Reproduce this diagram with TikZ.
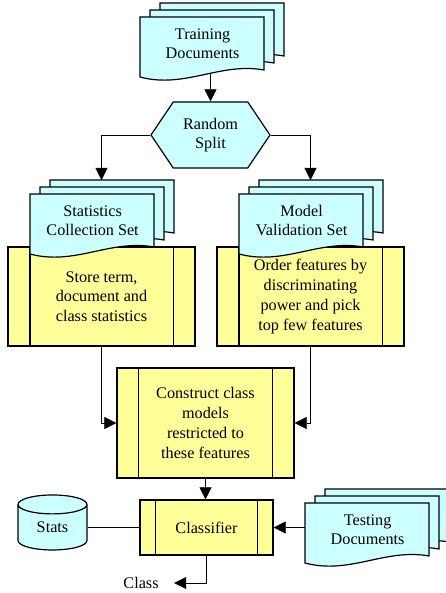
\documentclass[tikz,border=0pt]{standalone}
\usepackage{fontspec}
\setmainfont{Liberation Serif}
\usetikzlibrary{arrows.meta,shapes.symbols,shapes.geometric,backgrounds}

\definecolor{sheetcyan}{RGB}{204,255,255}
\definecolor{procyellow}{RGB}{255,255,153}

% stack of three sheets: name, x, y (top left of front sheet), text
\newcommand{\docstack}[4]{%
  \foreach \dx/\dy in {20/14, 10/7, 0/0}
    \filldraw[sheet] (#2+\dx, #3-\dy) -- ++(124, 0) -- ++(0, 53)
      .. controls +(-44, -8) and +(45, 12) .. ++(-124, 7) -- cycle;
  \node (#1-back) [sheetbox] at (#2+20, #3-14) {};
  \node (#1) [sheetbox] at (#2, #3) {#4};
}

\begin{document}
\begin{tikzpicture}[x=1pt, y=-1pt, line width=1.2pt,
    font=\fontsize{16.2}{19.7}\selectfont,
    sheet/.style={draw=black, fill=sheetcyan},
    sheetbox/.style={anchor=north west, minimum width=124, minimum height=52, inner sep=0, align=center},
    procbox/.style={draw, fill=procyellow, inner sep=0, align=center,
      append after command={\pgfextra{\let\procnode\tikzlastnode}
        ([xshift=#1]\procnode.north west) edge ([xshift=#1]\procnode.south west)
        ([xshift=-#1]\procnode.north east) edge ([xshift=-#1]\procnode.south east)}},
    procbox/.default=22.5pt,
    splitbox/.style={signal, signal to=west and east, signal pointer angle=112, draw, fill=sheetcyan,
      minimum width=119, minimum height=66, inner sep=0, align=center},
    statsdb/.style={cylinder, shape border rotate=90, aspect=0.6, draw, fill=sheetcyan,
      minimum width=69, minimum height=55, inner sep=0},
    flow/.style={-{Triangle[length=12pt, width=12pt]}}]
    \useasboundingbox (0, 0) rectangle (446, 593);

    % Nodes
    \docstack{train}{140}{17}{Training\\Documents}
    \node (split) [splitbox] at (210.5, 135) {Random\\Split};
    \node (store) [procbox, minimum width=187, minimum height=99] at (101.5, 296.5) {Store term,\\document and\\class statistics};
    \docstack{collect}{30}{194}{Statistics\\Collection Set}
    \node (order) [procbox, minimum width=187, minimum height=99] at (310.5, 296.5) {Order features by\\discriminating\\power and pick\\top few features};
    \docstack{valid}{239}{194}{Model\\Validation Set}
    \node (build) [procbox=22pt, minimum width=177, minimum height=110] at (205.5, 423) {Construct class\\models\\restricted to\\these features};
    \node (classify) [procbox=16pt, minimum width=133, minimum height=55] at (206.5, 527.5) {Classifier};
    \node (stats) [statsdb] at (52.5, 527.5) {Stats};
    \docstack{test}{305}{503}{Testing\\Documents}
    \node (class) [inner xsep=15pt, inner ysep=0] at (141, 583) {Class};

    % Edges
    \begin{scope}[on background layer]
        \draw[flow] (split.north |- train) -- (split.north);
        \draw[flow] (split.west) -| (store.north |- collect-back.north);
        \draw[flow] (split.east) -| (order.north |- valid-back.north);
        \draw[flow] (store.south) |- (build.west);
        \draw[flow] (order.south) |- (build.east);
        \draw[flow] (build.south) -- (build.south |- classify.north);
        \draw (stats.east |- classify) -- (classify.west);
        \draw[flow] (test.west |- classify) -- (classify.east);
        \draw[flow] (classify.south) |- (class.east);
    \end{scope}
\end{tikzpicture}
\end{document}
